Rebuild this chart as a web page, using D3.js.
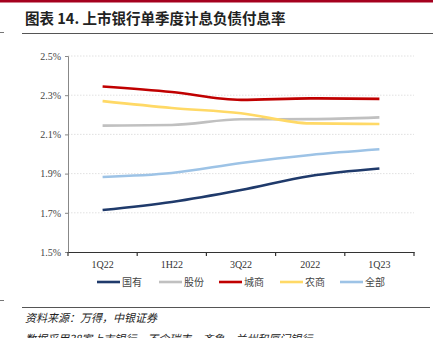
<!DOCTYPE html>
<html><head><meta charset="utf-8">
<script src="https://cdn.jsdelivr.net/npm/d3@7"></script>
<style>body{margin:0;background:#fff}svg{display:block}</style>
</head><body><svg id="c" width="433" height="338"></svg>
<script>
const categories = ["1Q22","1H22","3Q22","2022","1Q23"];
const seriesNames = ["国有","股份","城商","农商","全部"];
const seriesColors = ["#1f3a6b","#c0c0c0","#c00000","#ffd966","#9dc3e6"];
const guoyou  = [1.714,1.755,1.816,1.888,1.926];
const gufen   = [2.145,2.148,2.177,2.178,2.187];
const chengshang = [2.344,2.316,2.276,2.284,2.281];
const nongshang  = [2.270,2.235,2.208,2.156,2.153];
const quanbu  = [1.883,1.903,1.954,1.995,2.024];
const yTicks = [1.5,1.7,1.9,2.1,2.3,2.5];
const title = "图表 14. 上市银行单季度计息负债付息率";
const source = "资料来源：万得，中银证券";
const note = "数据采用38家上市银行，不含瑞丰、齐鲁、兰州和厦门银行";
const seriesValues = [guoyou,gufen,chengshang,nongshang,quanbu];

const svg = d3.select("#c");
// top red rule
svg.append("rect").attr("x",0).attr("y",0).attr("width",433).attr("height",2.5).attr("fill","#a5001e");
svg.append("text").attr("x",25).attr("y",24).attr("font-family","'Noto Sans CJK SC'").attr("font-weight","bold")
  .attr("font-size",14.5).attr("fill","#222").text(title);
svg.append("line").attr("x1",22).attr("x2",433).attr("y1",33.5).attr("y2",33.5).attr("stroke","#555").attr("stroke-width",1);
svg.append("line").attr("x1",0).attr("x2",4).attr("y1",32.5).attr("y2",32.5).attr("stroke","#777").attr("stroke-width",1);

const x = d3.scaleBand().domain(categories).range([68,414]);
const y = d3.scaleLinear().domain([1.5,2.5]).range([252,56]);

// grid
svg.append("g").selectAll("line").data(yTicks.slice(1)).join("line")
  .attr("x1",68).attr("x2",414).attr("y1",d=>y(d)).attr("y2",d=>y(d))
  .attr("stroke","#d9d9d9").attr("stroke-width",0.8).attr("stroke-dasharray","1.5,1.5");

const yAxis = svg.append("g").attr("transform","translate(68,0)")
  .call(d3.axisLeft(y).tickValues(yTicks).tickFormat(d=>d.toFixed(1)+"%").tickSize(3));
yAxis.select(".domain").attr("stroke","#888");
yAxis.selectAll(".tick line").attr("stroke","#888");
yAxis.selectAll("text").attr("font-family","'Liberation Serif'").attr("font-size",10).attr("fill","#444").attr("dx",-1);

const xAxis = svg.append("g").attr("transform","translate(0,252)")
  .call(d3.axisBottom(x).tickSize(0).tickPadding(9));
xAxis.select(".domain").attr("stroke","#333").attr("stroke-width",1.2);
xAxis.selectAll("text").attr("font-family","'Liberation Serif'").attr("font-size",10).attr("fill","#333");
const bounds = categories.map(c=>x(c)).concat([x.range()[1]]);
svg.append("g").selectAll("line").data(bounds).join("line")
  .attr("x1",d=>d).attr("x2",d=>d).attr("y1",252).attr("y2",256).attr("stroke","#333").attr("stroke-width",1.2);

const line = d3.line().x((d,i)=>x(categories[i])+x.bandwidth()/2).y(d=>y(d)).curve(d3.curveMonotoneX);
seriesValues.forEach((vals,k)=>{
  svg.append("path").datum(vals).attr("d",line).attr("fill","none")
    .attr("stroke",seriesColors[k]).attr("stroke-width",2.6);
});

// legend
const legX = [97,159,219,280,340];
seriesNames.forEach((n,k)=>{
  svg.append("line").attr("x1",legX[k]).attr("x2",legX[k]+23).attr("y1",282).attr("y2",282)
    .attr("stroke",seriesColors[k]).attr("stroke-width",2.6);
  svg.append("text").attr("x",legX[k]+25).attr("y",286).attr("font-family","'Noto Sans CJK SC'")
    .attr("font-size",10).attr("fill","#444").text(n);
});

svg.append("line").attr("x1",22).attr("x2",430).attr("y1",307.5).attr("y2",307.5).attr("stroke","#555").attr("stroke-width",1);
svg.append("line").attr("x1",0).attr("x2",4).attr("y1",300.5).attr("y2",300.5).attr("stroke","#777").attr("stroke-width",1);
svg.append("text").attr("x",25).attr("y",322).attr("font-family","'Noto Sans CJK SC'").attr("font-style","italic")
  .attr("font-size",11).attr("fill","#222").attr("transform","skewX(0)").text(source);
svg.append("text").attr("x",25).attr("y",343).attr("font-family","'Noto Sans CJK SC'").attr("font-style","italic")
  .attr("font-size",11).attr("fill","#222").text(note);
</script></body></html>
